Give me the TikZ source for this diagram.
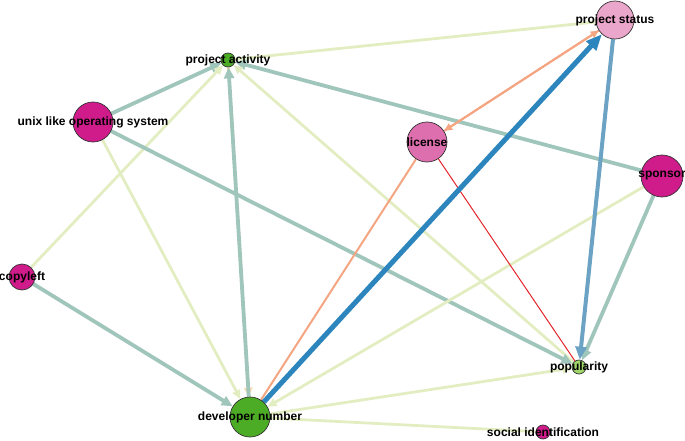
\documentclass[tikz,border=0pt]{standalone}
\usepackage{fontspec}
\setmainfont{Liberation Sans}
\usetikzlibrary{arrows.meta,backgrounds}
\definecolor{tealc}{HTML}{A0C6BC}
\definecolor{ygc}{HTML}{E3EDC2}
\definecolor{salc}{HTML}{F4A582}
\definecolor{redc}{HTML}{E3252B}
\definecolor{bluec}{HTML}{2C85BD}
\definecolor{steelc}{HTML}{6CA3C4}
\definecolor{peachc}{HTML}{F5D9AE}
\definecolor{magc}{HTML}{D01C8B}
\definecolor{orchc}{HTML}{DE6FAE}
\definecolor{lpinkc}{HTML}{EBA6CB}
\definecolor{greenc}{HTML}{4DAC26}
\definecolor{lgreenc}{HTML}{A1D76A}
\tikzset{
  dot/.style={circle, draw=black!80, line width=0.7pt, inner sep=0pt},
  lab/.style={font=\fontsize{12}{13}\selectfont\bfseries, text=black, inner sep=0pt},
  tealedge/.style={draw=tealc, line width=3.8pt, -{Triangle[length=11pt,width=10pt]}},
  ygedge/.style={draw=ygc, line width=2.8pt, -{Triangle[length=9pt,width=8pt]}},
  ygline/.style={draw=ygc, line width=2.8pt},
  saledge/.style={draw=salc, line width=2pt, -{Triangle[length=8pt,width=7pt]}},
  salline/.style={draw=salc, line width=2pt},
  rededge/.style={draw=redc, line width=1pt},
  blueedge/.style={draw=bluec, line width=5pt, -{Triangle[length=16pt,width=13pt]}},
  steeledge/.style={draw=steelc, line width=4pt, -{Triangle[length=13pt,width=11pt]}},
  peachedge/.style={draw=peachc, line width=2.8pt, -{Triangle[length=9pt,width=8pt]}},
}
\begin{document}
\begin{tikzpicture}[x=1pt,y=-1pt]
\useasboundingbox (0,0) rectangle (685,441);
% nodes
\node[dot, fill=greenc, minimum size=14pt] (pa) at (228,60) {};
\node[dot, fill=lpinkc, minimum size=38pt] (ps) at (615,20) {};
\node[dot, fill=magc, minimum size=40pt] (ux) at (93,122) {};
\node[dot, fill=orchc, minimum size=40pt] (li) at (427,142) {};
\node[dot, fill=magc, minimum size=42pt] (sp) at (662,176) {};
\node[dot, fill=magc, minimum size=26pt] (cl) at (22,277) {};
\node[dot, fill=lgreenc, minimum size=14pt] (po) at (579,367) {};
\node[dot, fill=greenc, minimum size=40pt] (dn) at (250,417) {};
\node[dot, fill=magc, minimum size=14pt] (si) at (543,432) {};
% edges
\begin{scope}[on background layer]
\draw[ygline] (pa) -- (ps);
\draw[peachedge] (pa) -- (dn);
\draw[tealedge] (ux) -- (pa);
\draw[tealedge] (sp) -- (pa);
\draw[ygedge] (cl) -- (pa);
\draw[tealedge] (dn) -- (pa);
\draw[ygedge] (po) -- (pa);
\draw[tealedge] (ux) -- (po);
\draw[ygedge] (ux) -- (dn);
\draw[tealedge] (cl) -- (dn);
\draw[ygedge] (sp) -- (dn);
\draw[ygedge] (dn) -- (po);
\draw[ygline] (dn) -- (si);
\draw[salline] (dn) -- (li);
\draw[saledge] (ps) -- (li);
\draw[saledge] (li) -- (ps);
\draw[rededge] (li) -- (po);
\draw[tealedge] (sp) -- (po);
\draw[steeledge] (ps) -- (po);
\draw[blueedge] (dn) -- (ps);
\end{scope}
% labels
\node[lab] at (pa) {project activity};
\node[lab] at (ps) {project status};
\node[lab] at (ux) {unix like operating system};
\node[lab] at (li) {license};
\node[lab] at (sp) {sponsor};
\node[lab] at (cl) {copyleft};
\node[lab] at (po) {popularity};
\node[lab] at (dn) {developer number};
\node[lab] at (si) {social identification};
\end{tikzpicture}
\end{document}
